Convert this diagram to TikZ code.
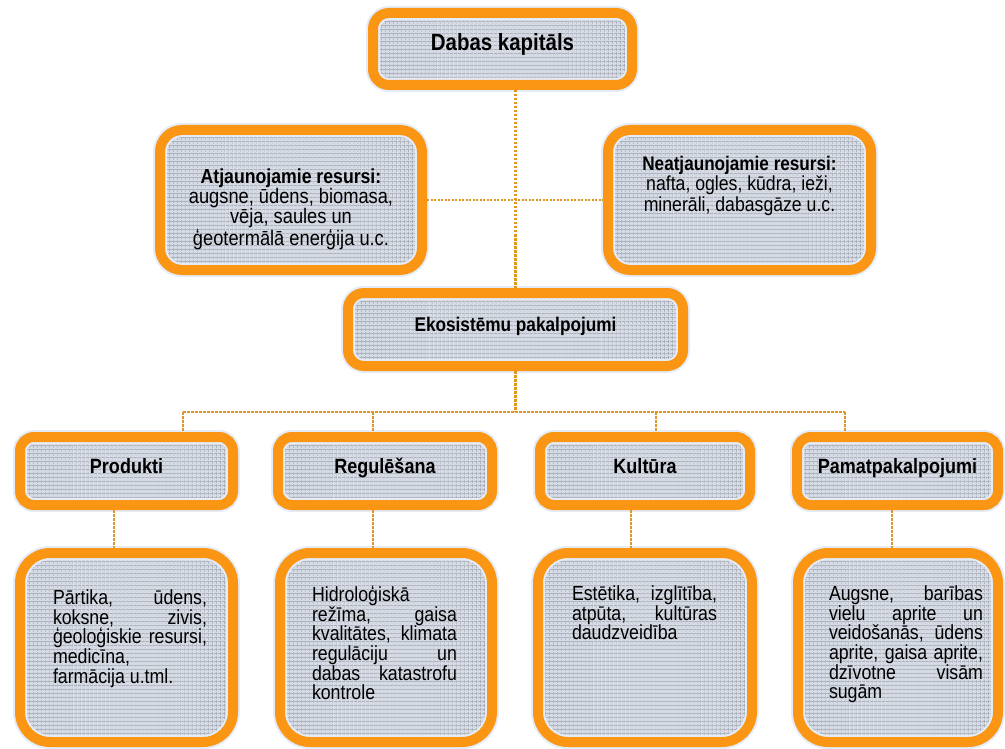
\documentclass[tikz,border=0pt]{standalone}
\usepackage{fontspec}
\setmainfont{Liberation Sans}[FakeStretch=0.87]
\usetikzlibrary{patterns.meta,calc}
\definecolor{orng}{RGB}{250,150,20}
\definecolor{dotc}{RGB}{225,150,35}
\definecolor{boxfill}{RGB}{214,220,231}
\definecolor{gridc}{RGB}{150,153,160}
\definecolor{rimc}{RGB}{228,236,248}
\newcommand{\hd}[1]{\raisebox{-2pt}[0pt][0pt]{#1}}
\newcommand{\bodyf}{\fontsize{20.4}{19.6}\selectfont}
\tikzset{
  obox/.style={rectangle, rounded corners=#1, draw=orng, line width=10pt,
    inner sep=0pt, outer sep=5pt,
    preaction={fill=boxfill},
    preaction={pattern={Lines[angle=0,distance=4pt,line width=0.6pt]}, pattern color=gridc},
    preaction={pattern={Lines[angle=90,distance=4pt,line width=0.6pt]}, pattern color=gridc},
    preaction={draw=rimc, line width=14pt}},
  headf/.style={font=\bfseries\fontsize{20.7}{22}\selectfont},
  conn/.style={draw=dotc, line width=2.5pt, dash pattern=on 2.5pt off 1.5pt},
  conn2/.style={draw=dotc, line width=2pt, dash pattern=on 2pt off 1.5pt}
}
\begin{document}
\begin{tikzpicture}[x=1pt,y=-1pt]
\useasboundingbox (0,0) rectangle (1005,749);

% top
\node[obox=16pt, minimum width=259pt, minimum height=72pt,
      font=\bfseries\fontsize{23.5}{26}\selectfont] (dabas) at (502.5,49) {\hd{Dabas kapitāls}};

\node[obox=22pt, minimum width=262pt, minimum height=140pt] (atj) at (291,200)
  {\parbox[c][140pt][t]{262pt}{\centering\fontsize{21}{20}\selectfont\vspace*{39pt}%
   {\bfseries\fontsize{20.3}{20}\selectfont Atjaunojamie resursi:}\\
   augsne, ūdens, biomasa,\\ vēja, saules un\\ ģeotermālā enerģija u.c.}};

\node[obox=22pt, minimum width=263pt, minimum height=140pt] (neat) at (739.5,200)
  {\parbox[c][140pt][t]{263pt}{\centering\fontsize{20.3}{20.5}\selectfont\vspace*{26pt}%
   {\bfseries\fontsize{19.7}{20.5}\selectfont Neatjaunojamie resursi:}\\
   nafta, ogles, kūdra, ieži,\\ minerāli, dabasgāze u.c.}};

\node[obox=16pt, minimum width=335pt, minimum height=73pt,
      font=\bfseries\fontsize{19.8}{22}\selectfont] (eko) at (515.5,329.5) {\hd{Ekosistēmu pakalpojumi}};

% service headers
\node[obox=14pt, minimum width=213pt, minimum height=68pt, headf] (prod) at (126.5,471) {\hd{Produkti}};
\node[obox=14pt, minimum width=214pt, minimum height=68pt, headf] (reg) at (385,471) {\hd{Regulēšana}};
\node[obox=14pt, minimum width=210pt, minimum height=68pt, headf] (kult) at (645,471) {\hd{Kultūra}};
\node[obox=14pt, minimum width=201pt, minimum height=68pt, headf] (pamat) at (897.5,471) {\hd{Pamatpakalpojumi}};

% detail boxes
\node[obox=30pt, minimum width=213pt, minimum height=189pt] (prodd) at (126.5,647.5)
  {\parbox[c][189pt][t]{213pt}{\leftskip=33pt\rightskip=26pt\bodyf\vspace*{37pt}%
   Pārtika,\hfill ūdens,\\ koksne,\hfill zivis,\\ ģeoloģiskie\hfill resursi,\\ medicīna,\\ farmācija u.tml.}};

\node[obox=30pt, minimum width=212pt, minimum height=189pt] (regd) at (386,647.5)
  {\parbox[c][189pt][t]{212pt}{\leftskip=32pt\rightskip=35pt\bodyf\vspace*{33pt}%
   Hidroloģiskā\\ režīma,\hfill gaisa\\ kvalitātes,\hfill klimata\\ regulāciju\hfill un\\ dabas\hfill katastrofu\\ kontrole}};

\node[obox=30pt, minimum width=214pt, minimum height=189pt] (kultd) at (645,647.5)
  {\parbox[c][189pt][t]{214pt}{\leftskip=34pt\rightskip=35pt\bodyf\vspace*{33pt}%
   Estētika,\hfill izglītība,\\ atpūta,\hfill kultūras\\ daudzveidība}};

\node[obox=30pt, minimum width=200pt, minimum height=189pt] (pamatd) at (898,647.5)
  {\parbox[c][189pt][t]{200pt}{\leftskip=31pt\rightskip=15pt\bodyf\vspace*{33pt}%
   Augsne,\hfill barības\\ vielu\hfill aprite\hfill un\\ veidošanās,\hfill ūdens\\ aprite,\hfill gaisa\hfill aprite,\\ dzīvotne\hfill visām\\ sugām}};

% connectors
\draw[conn] (dabas.south -| eko.north) -- (eko.north);
\draw[conn2] (atj.east) -- (neat.west);

\coordinate (d1) at (183,412);
\coordinate (d2) at (373,412);
\coordinate (d3) at (656,412);
\coordinate (d4) at (845,412);
\draw[conn] (eko.south) -- (eko.south |- d1);
\draw[conn] (d1) -- (d4);
\draw[conn] (d1) -- (d1 |- prod.north);
\draw[conn] (d2) -- (d2 |- reg.north);
\draw[conn] (d3) -- (d3 |- kult.north);
\draw[conn] (d4) -- (d4 |- pamat.north);

\coordinate (l1) at (114,0);
\coordinate (l2) at (373,0);
\coordinate (l3) at (631,0);
\coordinate (l4) at (892,0);
\draw[conn] (l1 |- prod.south) -- (l1 |- prodd.north);
\draw[conn] (l2 |- reg.south) -- (l2 |- regd.north);
\draw[conn] (l3 |- kult.south) -- (l3 |- kultd.north);
\draw[conn] (l4 |- pamat.south) -- (l4 |- pamatd.north);
\end{tikzpicture}
\end{document}
